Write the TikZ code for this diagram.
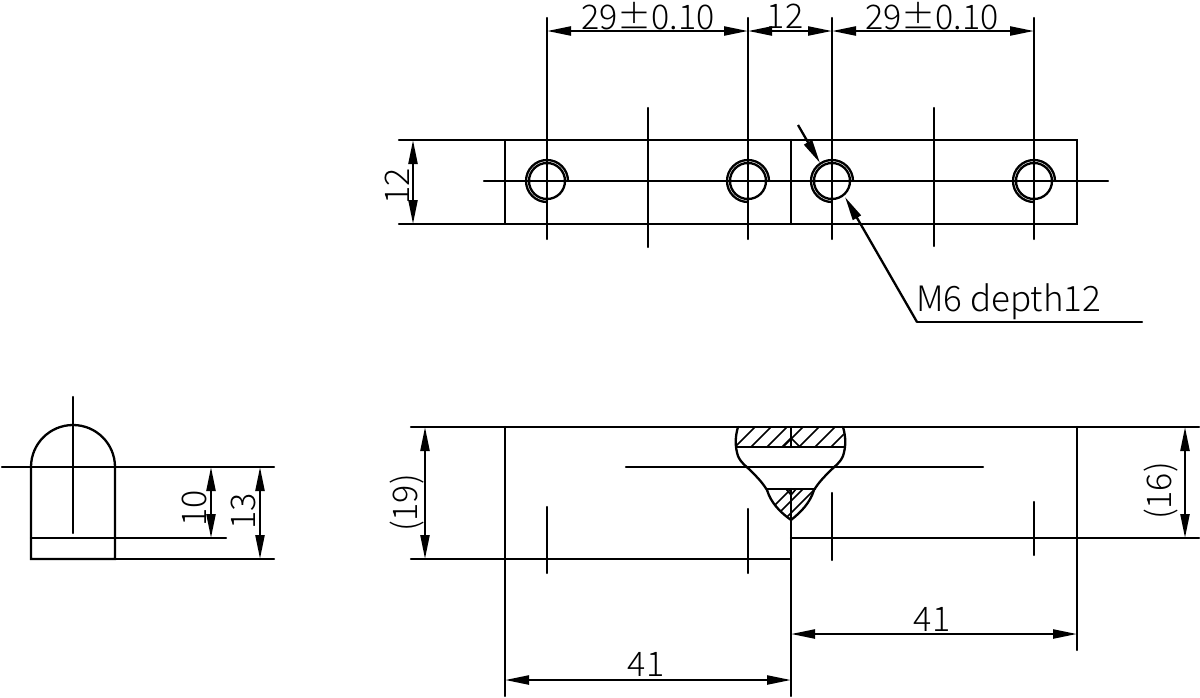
\documentclass[tikz,border=0pt]{standalone}
\usepackage{fontspec}
\usepackage{amsmath}
\setmainfont{Noto Sans CJK JP Light}
\usetikzlibrary{arrows.meta}
\tikzset{
  part/.style={line width=2.3pt,line cap=round},
  dimline/.style={line width=2.3pt,{Triangle[length=24pt,width=9pt]}-{Triangle[length=24pt,width=9pt]}},
  leader/.style={line width=2.3pt,-{Triangle[length=24pt,width=9pt]}},
  dimtext/.style={inner sep=0pt,font=\fontsize{34}{34}\selectfont},
  hatchline/.style={line width=1.6pt}
}
\begin{document}
\begin{tikzpicture}[x=1pt,y=-1pt]
\useasboundingbox (0,0) rectangle (1200,697);
% top view
\draw[part] (505,140) rectangle (1077,224);
\draw[part] (399,140) -- (505,140) (399,224) -- (505,224);
\draw[part] (791,140) -- (791,224);
\draw[part] (484,181) -- (1108,181);
\draw[part] (648,108) -- (648,247) (934,108) -- (934,246);
\foreach \xh/\nm in {547/ha,748/hb,832/hc,1034/hd}{
  \coordinate (\nm top) at (\xh,18);
  \coordinate (\nm dim) at (\xh,31);
  \draw[part] (\nm top) -- (\xh,239);
  \draw[part] (\xh,181) circle (18);
  \draw[part] (\xh+21,181) arc (0:-270:21);
}
\draw[dimline] (hadim) -- (hbdim);
\draw[dimline] (hbdim) -- (hcdim);
\draw[dimline] (hcdim) -- (hddim);
\node[dimtext] (tola) at (648,16) {29±0.10};
\node[dimtext] (gapa) at (785,16) {12};
\node[dimtext] (tolb) at (932,16) {29±0.10};
\coordinate (wa) at (413,140);
\coordinate (wb) at (413,224);
\draw[dimline] (wa) -- (wb);
\node[dimtext,rotate=90] (widtha) at (397,186) {12};
% thread note
\coordinate (ld) at (798,125);
\coordinate (le) at (820,163);
\coordinate (lf) at (917,322);
\coordinate (lg) at (845,197);
\coordinate (lh) at (1142,322);
\draw[leader] (ld) -- (le);
\draw[leader] (lf) -- (lg);
\draw[part] (lf) -- (lh);
\node[dimtext,anchor=base west,font=\fontsize{35}{35}\selectfont] (note) at (916,311) {M6 depth12};
% front view
\draw[part] (411,427) -- (1199,427);
\draw[part] (411,559) -- (791,559);
\draw[part] (791,538) -- (1199,538);
\draw[part] (505,427) -- (505,696);
\draw[part] (1077,427) -- (1077,650);
\draw[part] (791,427) -- (791,447) (791,489) -- (791,696);
\draw[part] (626,467) -- (983,467);
\draw[part] (547,507) -- (547,573) (748,509) -- (748,573);
\draw[part] (832,493) -- (832,560) (1034,502) -- (1034,555);
% weld
\begin{scope}
  \clip (738,427) -- (736,447) -- (845,447) -- (843,427) -- cycle;
  \foreach \xs in {735,751,...,863}
    \draw[hatchline] (\xs,447) -- (\xs+20,427);
\end{scope}
\begin{scope}
  \clip (767,489) .. controls (771,503) and (780,512) .. (791,520) .. controls (801,512) and (810,503) .. (814,489) -- cycle;
  \foreach \xs in {760,772,...,820}
    \draw[hatchline] (\xs,520) -- (\xs+31,489);
\end{scope}
\draw[part] (738,427) .. controls (735,437) and (735,447) .. (738,456)
  .. controls (741,463) and (746,466) .. (750,470)
  .. controls (757,477) and (762,482) .. (767,490)
  .. controls (771,503) and (780,512) .. (791,520)
  .. controls (801,512) and (810,503) .. (814,490)
  .. controls (819,482) and (824,477) .. (831,470)
  .. controls (835,466) and (840,463) .. (843,456)
  .. controls (846,447) and (846,437) .. (843,427);
\draw[part] (736,447) -- (845,447) (767,489) -- (815,489);
\draw[hatchline] (782,447) -- (791,438) -- (800,447);
\draw[hatchline] (786,489) -- (791,495) -- (796,489);
% front view dimensions
\coordinate (ha) at (425,427);
\coordinate (hb) at (425,559);
\coordinate (hc) at (1185,427);
\coordinate (he) at (1185,538);
\coordinate (la) at (505,680);
\coordinate (lb) at (791,680);
\coordinate (lc) at (791,634);
\coordinate (lk) at (1077,634);
\draw[dimline] (ha) -- (hb);
\draw[dimline] (hc) -- (he);
\draw[dimline] (la) -- (lb);
\draw[dimline] (lc) -- (lk);
\node[dimtext,rotate=90] (heighta) at (407,503) {(19)};
\node[dimtext,rotate=90] (heightb) at (1161,491) {(16)};
\node[dimtext] (lena) at (646,664) {41};
\node[dimtext] (lenb) at (932,619) {41};
% side view
\draw[part] (31,467) arc (180:360:42) -- (115,559) -- (31,559) -- cycle;
\draw[part] (2,467) -- (274,467);
\draw[part] (73,397) -- (73,533);
\draw[part] (31,538) -- (226,538);
\draw[part] (115,559) -- (274,559);
\coordinate (sa) at (211,467);
\coordinate (sb) at (211,538);
\coordinate (sc) at (260,467);
\coordinate (sd) at (260,559);
\draw[dimline] (sa) -- (sb);
\draw[dimline] (sc) -- (sd);
\node[dimtext,rotate=90] (sidea) at (194,508) {10};
\node[dimtext,rotate=90] (sideb) at (243,511) {13};
\end{tikzpicture}
\end{document}
